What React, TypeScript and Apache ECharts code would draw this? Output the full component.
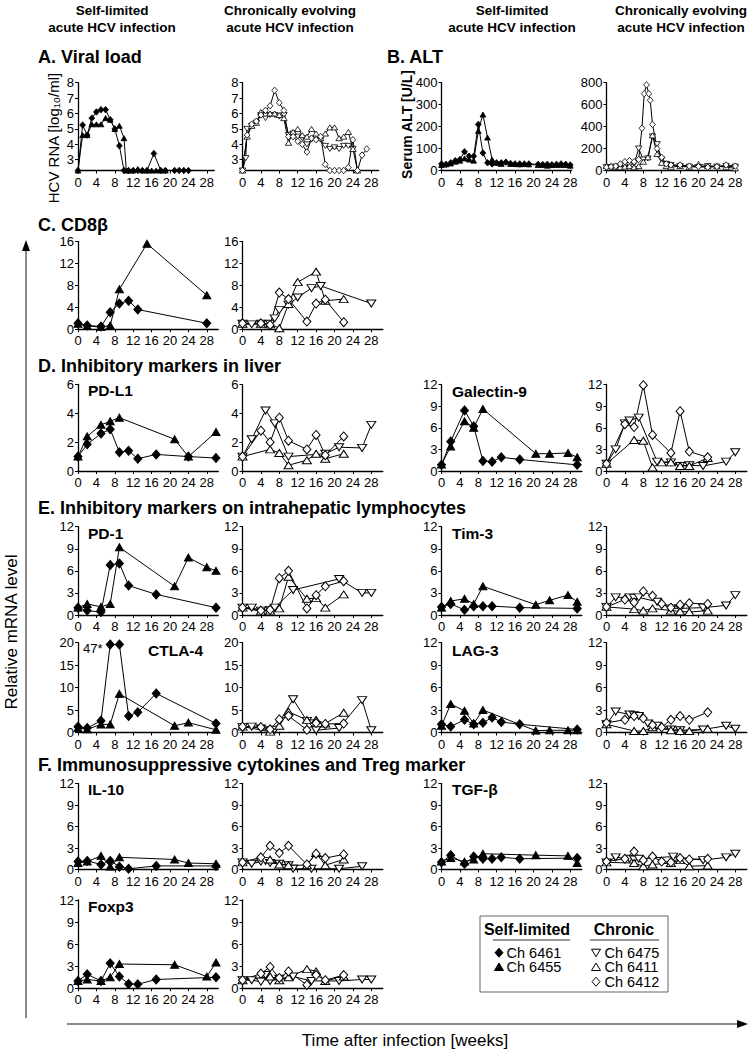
import React, { useEffect, useRef } from "react";
import * as echarts from "echarts";

type P = [number, number];

// ---------- labels ----------
const WEEK_TICKS = [0, 4, 8, 12, 16, 20, 24, 28];
const SELF_ANIMALS = ["Ch 6461", "Ch 6455"];
const CHRONIC_ANIMALS = ["Ch 6475", "Ch 6411", "Ch 6412"];
const COLUMN_HEADERS = [
  ["Self-limited", "acute HCV infection"],
  ["Chronically evolving", "acute HCV infection"],
  ["Self-limited", "acute HCV infection"],
  ["Chronically evolving", "acute HCV infection"],
];

// ---------- A. Viral load (log10/ml; 2.3 = undetectable baseline) ----------
const vl6461: P[] = [[0,2.3],[1,5.25],[2,4.6],[3,5.7],[4,6.1],[5,6.25],[6,6.25],[7,5.6],[8,5.0],[9,3.9],[10,2.3],[11,2.3],[12,2.3],[13,2.3],[14,2.3],[15,2.3],[16.5,3.4],[18,2.3],[19,2.3],[21,2.3],[22,2.3],[23,2.3],[24,2.3]];
const vl6455: P[] = [[0,2.3],[1,4.6],[2,4.6],[3,5.3],[4,5.3],[5,5.3],[6,5.7],[7,5.6],[8,5.0],[9,5.2],[10,4.4],[10.5,2.3],[11,2.3],[12,2.3],[13,2.4],[14,2.3],[15,2.3],[16,2.3],[17,2.3],[18,2.3],[19,2.3]];
const vl6475: P[] = [[0,2.3],[0.7,3.1],[1,5.0],[2,5.2],[3,5.4],[4,5.9],[5,5.7],[6,5.9],[7,5.9],[8,5.8],[9,5.9],[10,4.6],[11,4.7],[12,4.5],[13,4.4],[14,4.0],[15,4.3],[16,4.4],[17,4.3],[18,3.9],[19,3.7],[20,3.8],[21,3.7],[22,3.9],[23,3.9],[24,3.7]];
const vl6411: P[] = [[0,2.3],[1,4.5],[2,5.2],[3,5.4],[4,6.1],[5,6.0],[6,6.0],[7,6.0],[8,5.9],[9,5.7],[10,4.1],[11,4.8],[12,5.0],[13,4.6],[14,4.5],[15,5.0],[16,4.7],[17,4.4],[18,4.7],[19,5.1],[20,5.1],[21,4.4],[22,4.5],[23,4.8],[24,3.7],[25,2.3]];
const vl6412: P[] = [[0,2.3],[1,4.6],[2,5.3],[3,5.5],[4,5.9],[5,6.2],[6,6.5],[7,7.5],[8,6.7],[9,6.2],[10,4.5],[11,4.5],[12,4.2],[13,4.0],[14,3.5],[15,4.4],[16,4.3],[17,4.5],[18,2.7],[19,2.3],[20,2.3],[21,2.3],[22,2.3],[23,2.5],[24,4.3],[25,2.3],[26,3.3],[27,3.7]];

// ---------- B. ALT (U/L) ----------
const alt6461: P[] = [[0,30],[1,28],[2,35],[3,45],[4,50],[5,85],[6,65],[7,65],[8,210],[9,80],[10,35],[11,30],[12,35],[13,35],[14,38],[15,32],[16,30],[17,30],[18,30],[19,30],[21,28],[22,27],[23,28],[24,26],[25,28],[26,30],[27,28],[28,25]];
const alt6455: P[] = [[0,25],[1,28],[2,32],[3,40],[4,45],[5,55],[6,50],[7,45],[8,180],[9,255],[10,150],[11,50],[12,35],[13,30],[14,40],[15,30],[16,30],[17,28],[18,30],[19,28],[21,25],[22,25],[23,22],[24,25],[25,25],[26,25],[27,25],[28,22]];
const alt6475: P[] = [[0,30],[1,30],[2,35],[3,40],[4,45],[5,50],[6,60],[7,200],[8,100],[9,110],[10,310],[11,240],[12,100],[13,60],[14,50],[16,40],[18,35],[20,30],[22,40],[24,35],[26,40],[28,35]];
const alt6411: P[] = [[0,40],[1,40],[2,30],[3,30],[4,35],[5,40],[6,30],[7,40],[8,80],[9,120],[10,320],[11,150],[12,70],[13,40],[14,30],[16,40],[18,30],[20,60],[22,40],[24,40],[26,30],[28,20]];
const alt6412: P[] = [[0,30],[1,35],[2,40],[3,60],[4,80],[5,90],[6,80],[7,100],[7.7,385],[8.2,700],[8.7,780],[9.2,700],[9.5,640],[10,420],[11,200],[12,120],[13,60],[14,50],[16,50],[18,40],[20,35],[22,30],[24,35],[26,50],[28,40]];

// ---------- C. CD8beta ----------
const cd8_6461: P[] = [[0,1.1],[2,0.7],[5,0.5],[7,3.1],[9,4.7],[11,5.2],[13,3.6],[28,1.1]];
const cd8_6455: P[] = [[0,1.0],[2,0.6],[5,0.4],[7,0.7],[9,7.3],[15,15.6],[28,6.2]];
const cd8_6475: P[] = [[0,1.0],[2,0.9],[4,1.0],[6,1.0],[7,2.0],[8,3.5],[10,4.5],[12,5.8],[15,7.5],[17,7.9],[28,4.7]];
const cd8_6411: P[] = [[0,1.0],[4,1.0],[6,0.9],[8,0.2],[10,4.6],[12,8.6],[16,10.5],[18,5.2],[22,5.5]];
const cd8_6412: P[] = [[0,1.1],[4,1.1],[6,0.8],[8,6.7],[10,5.5],[14,1.4],[16,4.7],[18,5.4],[22,1.3]];

// ---------- D. PD-L1 ----------
const pdl1_6461: P[] = [[0,1.0],[2,1.85],[5,2.6],[7,2.9],[9,1.3],[11,1.4],[13,0.85],[17,1.15],[24,1.0],[30,0.9]];
const pdl1_6455: P[] = [[0,1.0],[2,2.4],[5,3.2],[7,3.45],[9,3.7],[21,2.2],[24,1.0],[30,2.7]];
const pdl1_6475: P[] = [[0,1.0],[2,2.2],[5,4.2],[7,3.3],[10,1.0],[18,1.2],[21,1.65],[26,1.6],[28,3.2]];
const pdl1_6411: P[] = [[0,1.0],[6,1.5],[8,1.25],[10,0.4],[14,0.75],[16,1.2],[18,0.85],[22,1.2]];
const pdl1_6412: P[] = [[0,1.0],[4,2.8],[6,2.0],[8,3.7],[10,2.1],[14,1.5],[16,2.5],[18,1.1],[22,2.4]];

// ---------- D. Galectin-9 ----------
const gal9_6461: P[] = [[0,0.85],[2,4.1],[5,8.4],[7,6.2],[9,1.4],[11,1.3],[13,1.9],[17,1.6],[29.5,0.85]];
const gal9_6455: P[] = [[0,0.9],[2,3.4],[5,6.9],[7,6.0],[9,8.6],[20.5,2.4],[23.5,2.4],[27.5,2.5],[29.5,1.9]];
const gal9_6475: P[] = [[0,1.0],[2,3.0],[4,6.6],[5,7.0],[7,7.4],[11,1.3],[14,1.2],[16,0.7],[18,0.8],[21,0.7],[26,1.3],[28,2.6]];
const gal9_6411: P[] = [[0,1.0],[6,4.3],[8,4.2],[10,0.5],[12,1.2],[14,1.2],[16,0.7],[18,0.7],[22,1.8]];
const gal9_6412: P[] = [[0,1.0],[4,6.5],[6,6.1],[8,11.9],[10,5.0],[14,2.5],[16,8.3],[18,2.7],[22,1.9]];

// ---------- E. PD-1 ----------
const pd1_6461: P[] = [[0,1.0],[2,0.6],[5,0.4],[7,6.8],[9,7.0],[11,4.0],[17,2.8],[30,1.0]];
const pd1_6455: P[] = [[0,1.0],[2,1.5],[5,1.1],[7,1.5],[9,9.2],[21,3.9],[24,7.8],[28,6.5],[30,6.0]];
const pd1_6475: P[] = [[0,1.0],[2,1.0],[4,0.6],[6,0.7],[7,1.0],[11,3.4],[21,4.9],[26,3.0],[28,3.0]];
const pd1_6411: P[] = [[0,1.0],[4,0.5],[6,0.6],[8,0.9],[10,5.2],[14,2.2],[16,2.3],[18,1.0],[22,2.8]];
const pd1_6412: P[] = [[0,1.0],[4,0.6],[6,0.7],[8,5.0],[10,6.0],[14,0.9],[16,2.7],[18,3.9],[22,4.6]];

// ---------- E. Tim-3 ----------
const tim3_6461: P[] = [[0,1.1],[2,1.5],[5,0.7],[7,1.2],[9,1.2],[11,1.2],[17,1.0],[29.5,0.9]];
const tim3_6455: P[] = [[0,1.0],[2,1.9],[5,2.2],[7,1.5],[9,3.9],[20.5,1.4],[23.5,2.0],[27.5,2.7],[29.5,1.8]];
const tim3_6475: P[] = [[0,1.1],[2,2.4],[5,2.4],[6,2.3],[7,2.4],[11,1.8],[14,0.9],[16,0.9],[21,1.0],[26,1.3],[28,2.7]];
const tim3_6411: P[] = [[0,1.1],[6,0.8],[8,0.6],[10,0.9],[14,0.6],[16,0.5],[18,0.4],[22,0.6]];
const tim3_6412: P[] = [[0,1.1],[4,2.1],[6,1.7],[8,3.2],[10,2.6],[12,1.5],[14,1.0],[16,1.4],[18,1.6],[22,1.5]];

// ---------- E. CTLA-4 (6461 peak 47, drawn at top of axis) ----------
const ctla4_6461: P[] = [[0,1.3],[2,1.0],[5,2.6],[7,19.6],[9,19.6],[11,3.7],[13,4.5],[17,8.7],[30,2.0]];
const ctla4_6455: P[] = [[0,1.0],[2,0.7],[5,1.8],[7,1.8],[9,8.6],[21,1.5],[24,2.2],[30,0.6]];
const ctla4_6475: P[] = [[0,1.2],[2,1.3],[4,0.9],[6,0.5],[7,0.6],[11,7.4],[14,2.6],[16,0.5],[21,1.0],[26,7.2],[28,0.5]];
const ctla4_6411: P[] = [[0,1.3],[6,0.2],[8,1.5],[10,4.6],[14,2.8],[16,2.8],[18,2.0],[22,4.4]];
const ctla4_6412: P[] = [[0,1.3],[4,1.2],[6,0.7],[8,2.9],[10,3.7],[14,0.6],[16,2.1],[18,1.9],[22,2.0]];

// ---------- E. LAG-3 ----------
const lag3_6461: P[] = [[0,1.1],[2,0.8],[5,1.7],[7,1.1],[9,1.3],[11,2.0],[13,1.4],[17,1.1],[29.5,0.4]];
const lag3_6455: P[] = [[0,0.9],[2,3.8],[5,2.9],[7,1.2],[9,3.0],[20.5,0.25],[23.5,0.3],[27.5,0.3],[29.5,0.3]];
const lag3_6475: P[] = [[0,1.1],[2,2.8],[5,2.4],[6,2.3],[7,2.2],[9,1.2],[11,0.9],[14,0.4],[16,0.3],[21,0.4],[26,0.9],[28,0.5]];
const lag3_6411: P[] = [[0,1.1],[6,0.2],[8,0.2],[10,0.7],[14,0.3],[16,0.2],[18,0.2],[22,0.5]];
const lag3_6412: P[] = [[0,1.3],[4,1.7],[6,2.2],[8,1.9],[10,1.0],[12,0.7],[14,1.7],[16,2.2],[18,1.7],[22,2.7]];

// ---------- F. IL-10 ----------
const il10_6461: P[] = [[0,1.1],[2,1.2],[5,0.7],[7,1.2],[9,0.4],[11,0.1],[17,0.5],[30,0.5]];
const il10_6455: P[] = [[0,0.9],[2,1.1],[5,1.9],[7,0.4],[9,1.7],[21,1.4],[24,0.9],[30,0.8]];
const il10_6475: P[] = [[0,1.0],[2,0.8],[4,1.1],[5,1.2],[6,0.9],[8,0.8],[10,0.6],[11,0.1],[15,0.1],[21,0.1],[26,0.45]];
const il10_6411: P[] = [[0,1.0],[6,1.4],[8,0.7],[10,0.6],[14,0.6],[16,2.3],[18,0.6],[22,1.4]];
const il10_6412: P[] = [[0,1.0],[4,1.7],[6,3.3],[8,2.3],[10,3.3],[14,0.7],[16,2.2],[18,1.6],[22,2.1]];

// ---------- F. TGF-beta ----------
const tgfb_6461: P[] = [[0,1.0],[2,2.0],[5,0.8],[7,1.8],[9,1.5],[11,1.5],[13,1.7],[17,1.5],[29.5,1.6]];
const tgfb_6455: P[] = [[0,1.1],[2,1.6],[5,1.1],[7,1.4],[9,2.2],[20.5,2.0],[27.5,1.9],[29.5,0.9]];
const tgfb_6475: P[] = [[0,1.0],[2,1.7],[5,1.5],[6,1.4],[7,1.5],[14.5,1.8],[21,1.3],[26,1.7],[28,2.2]];
const tgfb_6411: P[] = [[0,1.0],[6,0.9],[8,0.45],[10,0.7],[14,0.9],[16,1.3],[18,0.45],[22,0.55]];
const tgfb_6412: P[] = [[0,1.1],[4,1.5],[6,2.5],[8,1.3],[10,1.8],[12,1.1],[14,1.0],[16,1.6],[18,1.4],[22,1.5]];

// ---------- F. Foxp3 ----------
const foxp3_6461: P[] = [[0,1.0],[2,1.9],[5,1.0],[7,3.4],[9,1.6],[11,0.6],[13,0.55],[17,1.2],[30,1.5]];
const foxp3_6455: P[] = [[0,1.0],[2,1.2],[5,1.0],[7,1.5],[9,3.3],[21,3.2],[28,1.6],[30,3.5]];
const foxp3_6475: P[] = [[0,1.1],[2,1.1],[4,0.9],[5,1.8],[6,1.0],[8,1.3],[11,1.6],[15,1.0],[21,1.0],[26,1.2],[28,1.2]];
const foxp3_6411: P[] = [[0,1.1],[6,1.6],[8,1.1],[10,1.5],[14,2.6],[16,2.3],[18,1.0],[22,1.6]];
const foxp3_6412: P[] = [[0,1.1],[4,2.0],[6,2.9],[8,1.4],[10,2.3],[14,0.45],[16,1.8],[18,1.1],[22,1.8]];

// ---------- styling / layout ----------
const FONT = '"Liberation Sans", Arial, Helvetica, sans-serif';
const INK = "#000";

const MARKER: Record<string, { symbol: string; size: number[]; rotate: number; fill: string }> = {
  "Ch 6461": { symbol: "diamond", size: [8, 9], rotate: 0, fill: INK },
  "Ch 6455": { symbol: "triangle", size: [8, 7], rotate: 0, fill: INK },
  "Ch 6475": { symbol: "triangle", size: [9, 7], rotate: 180, fill: "#fff" },
  "Ch 6411": { symbol: "triangle", size: [9, 7], rotate: 0, fill: "#fff" },
  "Ch 6412": { symbol: "diamond", size: [8, 9], rotate: 0, fill: "#fff" },
};

const COL_X = [78, 242.5, 441.5, 606.5];
const ROW_Y: Record<string, [number, number]> = {
  A: [82.7, 170.5],
  C: [241.5, 329.3],
  D: [384.5, 471],
  E1: [526.7, 615],
  E2: [642.7, 732.5],
  F1: [783.5, 869.5],
  F2: [900, 988.3],
};
const PX_PER_WEEK = 4.6;

interface PanelSpec {
  col: number;
  row: string;
  xMax: number;
  yMin: number;
  yMax: number;
  yTicks: number[];
  small?: boolean;
  series: [string, P[]][];
}

const T3 = [0, 3, 6, 9, 12];
const PANELS: PanelSpec[] = [
  { col: 0, row: "A", xMax: 29.6, yMin: 2.3, yMax: 8, yTicks: [3, 4, 5, 6, 7, 8], small: true, series: [["Ch 6461", vl6461], ["Ch 6455", vl6455]] },
  { col: 1, row: "A", xMax: 29.6, yMin: 2.3, yMax: 8, yTicks: [3, 4, 5, 6, 7, 8], small: true, series: [["Ch 6475", vl6475], ["Ch 6411", vl6411], ["Ch 6412", vl6412]] },
  { col: 2, row: "A", xMax: 28.3, yMin: 0, yMax: 400, yTicks: [0, 100, 200, 300, 400], small: true, series: [["Ch 6461", alt6461], ["Ch 6455", alt6455]] },
  { col: 3, row: "A", xMax: 28.3, yMin: 0, yMax: 800, yTicks: [0, 200, 400, 600, 800], small: true, series: [["Ch 6475", alt6475], ["Ch 6411", alt6411], ["Ch 6412", alt6412]] },
  { col: 0, row: "C", xMax: 30.5, yMin: 0, yMax: 16, yTicks: [0, 4, 8, 12, 16], series: [["Ch 6461", cd8_6461], ["Ch 6455", cd8_6455]] },
  { col: 1, row: "C", xMax: 30.5, yMin: 0, yMax: 16, yTicks: [0, 4, 8, 12, 16], series: [["Ch 6475", cd8_6475], ["Ch 6411", cd8_6411], ["Ch 6412", cd8_6412]] },
  { col: 0, row: "D", xMax: 30.5, yMin: 0, yMax: 6, yTicks: [0, 2, 4, 6], series: [["Ch 6461", pdl1_6461], ["Ch 6455", pdl1_6455]] },
  { col: 1, row: "D", xMax: 30.5, yMin: 0, yMax: 6, yTicks: [0, 2, 4, 6], series: [["Ch 6475", pdl1_6475], ["Ch 6411", pdl1_6411], ["Ch 6412", pdl1_6412]] },
  { col: 2, row: "D", xMax: 30.5, yMin: 0, yMax: 12, yTicks: T3, series: [["Ch 6461", gal9_6461], ["Ch 6455", gal9_6455]] },
  { col: 3, row: "D", xMax: 30.5, yMin: 0, yMax: 12, yTicks: T3, series: [["Ch 6475", gal9_6475], ["Ch 6411", gal9_6411], ["Ch 6412", gal9_6412]] },
  { col: 0, row: "E1", xMax: 30.5, yMin: 0, yMax: 12, yTicks: T3, series: [["Ch 6461", pd1_6461], ["Ch 6455", pd1_6455]] },
  { col: 1, row: "E1", xMax: 30.5, yMin: 0, yMax: 12, yTicks: T3, series: [["Ch 6475", pd1_6475], ["Ch 6411", pd1_6411], ["Ch 6412", pd1_6412]] },
  { col: 2, row: "E1", xMax: 30.5, yMin: 0, yMax: 12, yTicks: T3, series: [["Ch 6461", tim3_6461], ["Ch 6455", tim3_6455]] },
  { col: 3, row: "E1", xMax: 30.5, yMin: 0, yMax: 12, yTicks: T3, series: [["Ch 6475", tim3_6475], ["Ch 6411", tim3_6411], ["Ch 6412", tim3_6412]] },
  { col: 0, row: "E2", xMax: 30.5, yMin: 0, yMax: 20, yTicks: [0, 5, 10, 15, 20], series: [["Ch 6461", ctla4_6461], ["Ch 6455", ctla4_6455]] },
  { col: 1, row: "E2", xMax: 30.5, yMin: 0, yMax: 20, yTicks: [0, 5, 10, 15, 20], series: [["Ch 6475", ctla4_6475], ["Ch 6411", ctla4_6411], ["Ch 6412", ctla4_6412]] },
  { col: 2, row: "E2", xMax: 30.5, yMin: 0, yMax: 12, yTicks: T3, series: [["Ch 6461", lag3_6461], ["Ch 6455", lag3_6455]] },
  { col: 3, row: "E2", xMax: 30.5, yMin: 0, yMax: 12, yTicks: T3, series: [["Ch 6475", lag3_6475], ["Ch 6411", lag3_6411], ["Ch 6412", lag3_6412]] },
  { col: 0, row: "F1", xMax: 30.5, yMin: 0, yMax: 12, yTicks: T3, series: [["Ch 6461", il10_6461], ["Ch 6455", il10_6455]] },
  { col: 1, row: "F1", xMax: 30.5, yMin: 0, yMax: 12, yTicks: T3, series: [["Ch 6475", il10_6475], ["Ch 6411", il10_6411], ["Ch 6412", il10_6412]] },
  { col: 2, row: "F1", xMax: 30.5, yMin: 0, yMax: 12, yTicks: T3, series: [["Ch 6461", tgfb_6461], ["Ch 6455", tgfb_6455]] },
  { col: 3, row: "F1", xMax: 30.5, yMin: 0, yMax: 12, yTicks: T3, series: [["Ch 6475", tgfb_6475], ["Ch 6411", tgfb_6411], ["Ch 6412", tgfb_6412]] },
  { col: 0, row: "F2", xMax: 30.5, yMin: 0, yMax: 12, yTicks: T3, series: [["Ch 6461", foxp3_6461], ["Ch 6455", foxp3_6455]] },
  { col: 1, row: "F2", xMax: 30.5, yMin: 0, yMax: 12, yTicks: T3, series: [["Ch 6475", foxp3_6475], ["Ch 6411", foxp3_6411], ["Ch 6412", foxp3_6412]] },
];

function text(str: string, x: number, y: number, size: number, bold = false, align = "left", rotation = 0) {
  return {
    type: "text",
    x,
    y,
    rotation,
    silent: true,
    style: {
      text: str,
      fill: INK,
      font: `${bold ? "bold " : ""}${size}px ${FONT}`,
      align,
      verticalAlign: "middle",
      textAlign: align,
      textVerticalAlign: "middle",
    },
  };
}

function line(x1: number, y1: number, x2: number, y2: number, color = INK, width = 1) {
  return { type: "line", silent: true, shape: { x1, y1, x2, y2 }, style: { stroke: color, lineWidth: width } };
}

function poly(points: number[][], fill: string) {
  return { type: "polygon", silent: true, shape: { points }, style: { fill, stroke: INK, lineWidth: 1 } };
}

function legendMarker(name: string, cx: number, cy: number) {
  const m = MARKER[name];
  const w = 4.5;
  const h = 4.5;
  if (m.symbol === "diamond") return poly([[cx, cy - h], [cx + 4, cy], [cx, cy + h], [cx - 4, cy]], m.fill);
  if (m.rotate === 180) return poly([[cx - w, cy - 3.5], [cx + w, cy - 3.5], [cx, cy + 4]], m.fill);
  return poly([[cx, cy - 4], [cx + w, cy + 3.5], [cx - w, cy + 3.5]], m.fill);
}

function buildOption() {
  const grid: any[] = [];
  const xAxis: any[] = [];
  const yAxis: any[] = [];
  const series: any[] = [];
  const axisLine = { show: true, onZero: false, lineStyle: { color: INK, width: 1.3 } };
  const labelStyle = { fontSize: 13, color: INK, fontFamily: FONT };

  PANELS.forEach((p, i) => {
    const [top, bottom] = ROW_Y[p.row];
    grid.push({ left: COL_X[p.col], top, width: p.xMax * PX_PER_WEEK, height: bottom - top });
    xAxis.push({
      type: "value",
      gridIndex: i,
      min: 0,
      max: p.xMax,
      axisLine,
      axisTick: { show: true, length: 3, customValues: WEEK_TICKS, lineStyle: { color: INK, width: 1 } },
      axisLabel: { ...labelStyle, margin: 5, customValues: WEEK_TICKS },
      splitLine: { show: false },
    });
    const step = p.yTicks[1] - p.yTicks[0];
    yAxis.push({
      type: "value",
      gridIndex: i,
      min: p.yMin,
      max: p.yMax,
      ...(p.yMin === 0 ? { interval: step } : {}),
      axisLine,
      axisTick: { show: true, length: 3, customValues: p.yTicks, lineStyle: { color: INK, width: 1 } },
      axisLabel: { ...labelStyle, margin: 4, customValues: p.yTicks },
      splitLine: { show: false },
    });
    p.series.forEach(([name, data]) => {
      const m = MARKER[name];
      const scale = p.small ? 0.72 : 1;
      series.push({
        type: "line",
        name,
        xAxisIndex: i,
        yAxisIndex: i,
        data,
        symbol: m.symbol,
        symbolSize: [m.size[0] * scale, m.size[1] * scale],
        symbolRotate: m.rotate,
        showSymbol: true,
        showAllSymbol: true,
        clip: false,
        silent: true,
        lineStyle: { color: INK, width: 1 },
        itemStyle: { color: m.fill, borderColor: INK, borderWidth: p.small ? 0.8 : 1 },
        emphasis: { disabled: true },
      });
    });
  });

  const g: any[] = [];
  // column headers
  const headerCenters = [112, 290, 512, 681];
  COLUMN_HEADERS.forEach((lines, i) => {
    g.push(text(lines[0], headerCenters[i], 10, 13.5, true, "center"));
    g.push(text(lines[1], headerCenters[i], 27, 13.5, true, "center"));
  });
  // section titles
  g.push(text("A. Viral load", 38, 56.5, 18, true));
  g.push(text("B. ALT", 387, 56.5, 18, true));
  g.push(text("C. CD8β", 38, 225, 18, true));
  g.push(text("D. Inhibitory markers in liver", 38, 366, 18, true));
  g.push(text("E. Inhibitory markers on intrahepatic lymphocytes", 38, 507.5, 18, true));
  g.push(text("F. Immunosuppressive cytokines and Treg marker", 38, 765, 18, true));
  // axis names of row A/B
  g.push(text("HCV RNA [log₁₀/ml]", 53, 138, 15, false, "center", Math.PI / 2));
  g.push(text("Serum ALT [U/L]", 407, 124.5, 14, true, "center", Math.PI / 2));
  // panel labels
  g.push(text("PD-L1", 88, 390, 15.5, true));
  g.push(text("Galectin-9", 452, 391, 15.5, true));
  g.push(text("PD-1", 88, 533, 15.5, true));
  g.push(text("Tim-3", 452, 533, 15.5, true));
  g.push(text("47*", 83, 648.5, 13));
  g.push(text("CTLA-4", 148, 650, 15.5, true));
  g.push(text("LAG-3", 452, 650, 15.5, true));
  g.push(text("IL-10", 88, 789, 15.5, true));
  g.push(text("TGF-β", 452, 789, 15.5, true));
  g.push(text("Foxp3", 88, 906.5, 15.5, true));
  // shared axis arrows
  g.push(line(26, 1018, 26, 247, "#8a8a8a", 2));
  g.push({ type: "polygon", silent: true, shape: { points: [[22, 251], [30, 251], [26, 240]] }, style: { fill: INK } });
  g.push(text("Relative mRNA level", 11, 632, 17, false, "center", Math.PI / 2));
  g.push(line(67, 1024, 739, 1024, "#8a8a8a", 2));
  g.push({ type: "polygon", silent: true, shape: { points: [[737, 1020], [737, 1028], [748, 1024]] }, style: { fill: INK } });
  g.push(text("Time after infection [weeks]", 405, 1040, 17, false, "center"));
  // legend box
  g.push({ type: "rect", silent: true, shape: { x: 480, y: 916, width: 188, height: 76 }, style: { fill: "#fff", stroke: "#666", lineWidth: 1 } });
  g.push(text("Self-limited", 527, 929, 16, true, "center"));
  g.push(text("Chronic", 624, 929, 16, true, "center"));
  g.push(line(493, 940, 570, 940, "#333", 1));
  g.push(line(590, 940, 659, 940, "#333", 1));
  const rowsY = [952.7, 967, 981.7];
  SELF_ANIMALS.forEach((name, i) => {
    g.push(legendMarker(name, 499, rowsY[i]));
    g.push(text(name, 506.5, rowsY[i], 14.5));
  });
  CHRONIC_ANIMALS.forEach((name, i) => {
    g.push(legendMarker(name, 596, rowsY[i]));
    g.push(text(name, 604.5, rowsY[i], 14.5));
  });

  return {
    animation: false,
    backgroundColor: "#fff",
    textStyle: { fontFamily: FONT },
    grid,
    xAxis,
    yAxis,
    series,
    graphic: { elements: g },
  };
}

export default function App() {
  const ref = useRef<HTMLDivElement>(null);
  useEffect(() => {
    if (!ref.current) return;
    const chart = echarts.init(ref.current, undefined, { renderer: "svg" });
    chart.setOption(buildOption() as any);
    return () => chart.dispose();
  }, []);
  return (
    <div
      ref={ref}
      style={{ position: "absolute", left: 0, top: 0, width: 750, height: 1052, background: "#fff" }}
    />
  );
}
